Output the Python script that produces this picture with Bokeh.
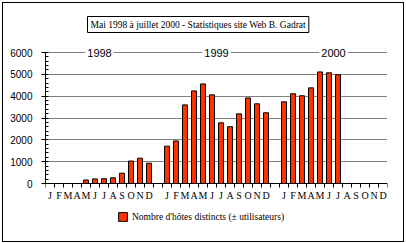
from bokeh.plotting import figure
from bokeh.models import (ColumnDataSource, FixedTicker, Legend, LegendItem, Title, Range1d,
                          GlobalInlineStyleSheet)
from bokeh.embed import file_html
from bokeh.resources import INLINE
from bokeh.core.properties import value

# ---- data ----
years = ["1998", "1999", "2000"]
month_labels = ["J", "F", "M", "A", "M", "J", "J", "A", "S", "O", "N", "D"]
hosts_1998 = [None, None, None, None, 160, 210, 220, 260, 470, 1030, 1160, 930]
hosts_1999 = [1710, 1950, 3600, 4240, 4560, 4060, 2780, 2600, 3190, 3920, 3650, 3240]
hosts_2000 = [3740, 4110, 4020, 4380, 5110, 5070, 4980, None, None, None, None, None]
y_ticks = [0, 1000, 2000, 3000, 4000, 5000, 6000]
series_label = "Nombre d'hôtes distincts (± utilisateurs)"
title_text = "Mai 1998 à juillet 2000 - Statistiques site Web B. Gadrat"

SLOTS_PER_YEAR = 13  # 12 months + one empty gap slot
series = [hosts_1998, hosts_1999, hosts_2000]

xs, tops = [], []
for yi, vals in enumerate(series):
    for mi, v in enumerate(vals):
        if v is not None:
            xs.append(yi * SLOTS_PER_YEAR + mi)
            tops.append(v)
src = ColumnDataSource(dict(x=xs, top=tops))

month_centers = []
overrides = {}
boundaries = []
for yi in range(len(years)):
    for mi, m in enumerate(month_labels):
        c = yi * SLOTS_PER_YEAR + mi
        month_centers.append(c)
        overrides[c] = m
    for b in range(len(month_labels) + 1):
        boundaries.append(yi * SLOTS_PER_YEAR + b - 0.5)

n_slots = len(years) * SLOTS_PER_YEAR - 1
y_max = y_ticks[-1]

# layout (pixels)
FRAME_H = 180
PX_PER_UNIT = 131.0 / 6000.0
y_hi = y_max + 9 / PX_PER_UNIT          # frame top 9px above the 6000 line
y_lo = y_hi - FRAME_H / PX_PER_UNIT     # frame extends below the axis to hold the legend

p = figure(frame_width=342, frame_height=FRAME_H, output_backend="svg", toolbar_location=None,
           x_range=Range1d(-0.5, n_slots - 0.5), y_range=Range1d(y_lo, y_hi),
           min_border_left=42, min_border_right=16, min_border_top=39, min_border_bottom=18)
p.stylesheets = [GlobalInlineStyleSheet(css="body { margin: 2px !important; }")]
p.styles = {"border": "1px solid black", "box-sizing": "content-box"}
p.outline_line_color = None
p.background_fill_color = "white"
p.border_fill_color = "white"

bars = p.vbar(x="x", top="top", width=0.55, source=src,
              fill_color="#FF3300", line_color="black", line_width=1)

# axes
xa = p.xaxis[0]
xa.fixed_location = 0
xa.ticker = FixedTicker(ticks=month_centers, minor_ticks=boundaries)
xa.major_label_overrides = overrides
xa.major_tick_out = 0
xa.major_tick_in = 0
xa.minor_tick_out = 4
xa.minor_tick_in = 0
xa.axis_line_color = "black"
xa.minor_tick_line_color = "black"
xa.major_label_text_font = "Liberation Serif"
xa.major_label_text_font_size = "10px"
xa.major_label_text_color = "black"
xa.major_label_standoff = 2

ya = p.yaxis[0]
ya.ticker = FixedTicker(ticks=y_ticks, minor_ticks=list(range(0, y_max + 1, 200)))
ya.bounds = (0, y_max)
ya.major_tick_out = 4
ya.major_tick_in = 2
ya.minor_tick_out = 0
ya.minor_tick_in = 3
ya.axis_line_color = "black"
ya.major_tick_line_color = "black"
ya.minor_tick_line_color = "black"
ya.major_label_text_font = "Liberation Sans"
ya.major_label_text_font_size = "10px"
ya.major_label_text_color = "black"
ya.major_label_standoff = 9

p.xgrid.visible = False
p.ygrid.ticker = FixedTicker(ticks=y_ticks[1:])
p.ygrid.grid_line_color = "black"
p.ygrid.grid_line_dash = "1 1"
p.ygrid.grid_line_width = 1

# year labels on the top gridline
year_src = ColumnDataSource(dict(x=[yi * SLOTS_PER_YEAR + 5.5 for yi in range(len(years))],
                                 y=[y_max] * len(years), text=years))
p.text(x="x", y="y", text="text", source=year_src, text_align="center", text_baseline="middle",
       text_font=value("Liberation Sans"), text_font_size="11px", text_color="black",
       background_fill_color="white", padding=2)

# title box
title = Title(text=title_text, align="left", offset=42, standoff=22,
              text_font="Liberation Serif", text_font_size="9.5px", text_font_style="normal",
              text_color="black", border_line_color="black", border_line_width=1,
              background_fill_color="white", padding=3)
p.add_layout(title, "above")

legend = Legend(items=[LegendItem(label=series_label, renderers=[bars])],
                location=(72, 1), border_line_color=None, background_fill_alpha=0,
                padding=0, margin=0, glyph_width=11, glyph_height=11, label_height=11,
                label_standoff=4, label_text_font="Liberation Serif",
                label_text_font_size="9.5px", label_text_color="black")
p.add_layout(legend, "center")

open("out.html", "w").write(file_html(p, INLINE))
